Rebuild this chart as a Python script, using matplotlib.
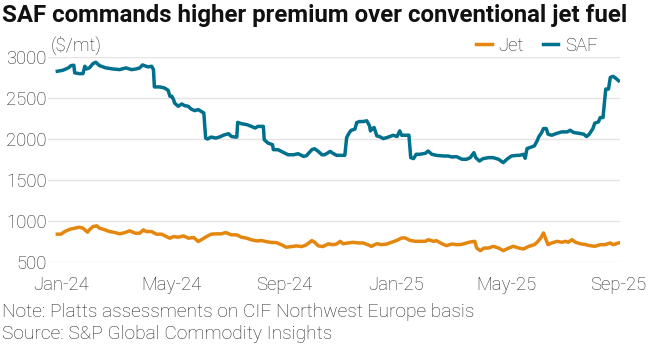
"""SAF vs conventional jet fuel price chart (Platts CIF NWE)."""

import matplotlib

matplotlib.use("Agg")
import matplotlib.pyplot as plt
import pandas as pd

plt.rcParams["font.family"] = ["Roboto", "DejaVu Sans"]

TITLE = "SAF commands higher premium over conventional jet fuel"
UNIT = "($/mt)"
NOTE = "Note: Platts assessments on CIF Northwest Europe basis"
SOURCE = "Source: S&P Global Commodity Insights"

SAF_DATES = [
    "2023-12-28", "2024-01-03", "2024-01-09", "2024-01-12", "2024-01-15", "2024-01-16",
    "2024-01-21", "2024-01-25", "2024-01-27", "2024-01-29", "2024-02-01", "2024-02-05",
    "2024-02-08", "2024-02-12", "2024-02-19", "2024-02-27", "2024-03-05", "2024-03-12",
    "2024-03-18", "2024-03-23", "2024-03-27", "2024-03-30", "2024-04-01", "2024-04-05",
    "2024-04-09", "2024-04-11", "2024-04-12", "2024-04-18", "2024-04-23", "2024-04-27",
    "2024-04-29", "2024-05-01", "2024-05-03", "2024-05-04", "2024-05-08", "2024-05-12",
    "2024-05-15", "2024-05-19", "2024-05-22", "2024-05-26", "2024-05-30", "2024-06-02",
    "2024-06-05", "2024-06-07", "2024-06-09", "2024-06-13", "2024-06-18", "2024-06-22",
    "2024-06-27", "2024-07-02", "2024-07-05", "2024-07-09", "2024-07-11", "2024-07-12",
    "2024-07-16", "2024-07-22", "2024-07-27", "2024-07-31", "2024-08-03", "2024-08-09",
    "2024-08-10", "2024-08-14", "2024-08-19", "2024-08-20", "2024-08-25", "2024-08-31",
    "2024-09-05", "2024-09-11", "2024-09-16", "2024-09-22", "2024-09-25", "2024-10-01",
    "2024-10-04", "2024-10-08", "2024-10-12", "2024-10-15", "2024-10-21", "2024-10-24",
    "2024-10-28", "2024-11-02", "2024-11-06", "2024-11-08", "2024-11-11", "2024-11-13",
    "2024-11-17", "2024-11-19", "2024-11-22", "2024-11-26", "2024-11-30", "2024-12-03",
    "2024-12-04", "2024-12-06", "2024-12-08", "2024-12-11", "2024-12-14", "2024-12-18",
    "2024-12-22", "2024-12-25", "2024-12-29", "2025-01-02", "2025-01-05", "2025-01-07",
    "2025-01-11", "2025-01-15", "2025-01-17", "2025-01-20", "2025-01-23", "2025-01-27",
    "2025-02-02", "2025-02-05", "2025-02-09", "2025-02-14", "2025-02-22", "2025-02-27",
    "2025-03-03", "2025-03-08", "2025-03-14", "2025-03-19", "2025-03-23", "2025-03-27",
    "2025-03-29", "2025-04-02", "2025-04-06", "2025-04-12", "2025-04-17", "2025-04-23",
    "2025-04-28", "2025-05-02", "2025-05-07", "2025-05-13", "2025-05-16", "2025-05-20",
    "2025-05-22", "2025-05-24", "2025-05-27", "2025-06-01", "2025-06-04", "2025-06-06",
    "2025-06-09", "2025-06-11", "2025-06-14", "2025-06-16", "2025-06-20", "2025-06-26",
    "2025-07-01", "2025-07-07", "2025-07-10", "2025-07-14", "2025-07-19", "2025-07-25",
    "2025-07-28", "2025-07-31", "2025-08-04", "2025-08-06", "2025-08-10", "2025-08-12",
    "2025-08-15", "2025-08-18", "2025-08-21", "2025-08-23", "2025-08-26", "2025-08-29",
    "2025-09-01",
]
SAF_PRICE = [
    2825, 2837, 2866, 2894, 2898, 2805,
    2796, 2796, 2886, 2853, 2866, 2919,
    2935, 2894, 2866, 2853, 2845, 2866,
    2845, 2853, 2866, 2902, 2894, 2878,
    2886, 2845, 2634, 2634, 2621, 2593,
    2520, 2520, 2479, 2438, 2398, 2426,
    2406, 2398, 2365, 2345, 2357, 2337,
    2316, 2011, 1999, 2023, 2011, 2023,
    2048, 2064, 2031, 2023, 2023, 2202,
    2186, 2174, 2153, 2133, 2153, 2153,
    1991, 1950, 1930, 1869, 1869, 1836,
    1807, 1807, 1820, 1787, 1795, 1869,
    1881, 1848, 1807, 1807, 1848, 1825,
    1800, 1800, 1800, 2017, 2078, 2106,
    2119, 2200, 2212, 2212, 2221, 2160,
    2098, 2125, 2139, 2037, 2029, 2004,
    2017, 2029, 2045, 2029, 2098, 2045,
    2045, 2045, 1772, 1760, 1813, 1813,
    1825, 1853, 1813, 1800, 1792, 1792,
    1780, 1784, 1752, 1752, 1772, 1833,
    1772, 1731, 1760, 1772, 1772, 1752,
    1711, 1752, 1792, 1800, 1800, 1813,
    1764, 1882, 1894, 1915, 1976, 2029,
    2078, 2127, 2127, 2058, 2045, 2070,
    2086, 2086, 2106, 2078, 2070, 2058,
    2029, 2058, 2127, 2192, 2208, 2261,
    2261, 2608, 2608, 2751, 2763, 2739,
    2710,
]

JET_DATES = [
    "2023-12-28", "2024-01-01", "2024-01-05", "2024-01-11", "2024-01-16", "2024-01-21",
    "2024-01-25", "2024-01-30", "2024-02-01", "2024-02-05", "2024-02-09", "2024-02-12",
    "2024-02-18", "2024-02-23", "2024-02-29", "2024-03-05", "2024-03-11", "2024-03-16",
    "2024-03-22", "2024-03-27", "2024-03-31", "2024-04-03", "2024-04-09", "2024-04-14",
    "2024-04-20", "2024-04-25", "2024-04-29", "2024-05-03", "2024-05-08", "2024-05-14",
    "2024-05-19", "2024-05-25", "2024-05-30", "2024-06-02", "2024-06-08", "2024-06-13",
    "2024-06-18", "2024-06-24", "2024-06-29", "2024-07-05", "2024-07-11", "2024-07-16",
    "2024-07-22", "2024-07-27", "2024-08-02", "2024-08-07", "2024-08-12", "2024-08-18",
    "2024-08-23", "2024-08-29", "2024-09-03", "2024-09-09", "2024-09-14", "2024-09-20",
    "2024-09-25", "2024-10-01", "2024-10-04", "2024-10-08", "2024-10-13", "2024-10-19",
    "2024-10-24", "2024-10-28", "2024-11-01", "2024-11-04", "2024-11-10", "2024-11-15",
    "2024-11-21", "2024-11-26", "2024-12-01", "2024-12-05", "2024-12-11", "2024-12-16",
    "2024-12-22", "2024-12-27", "2025-01-02", "2025-01-07", "2025-01-11", "2025-01-16",
    "2025-01-22", "2025-01-27", "2025-02-02", "2025-02-05", "2025-02-11", "2025-02-14",
    "2025-02-20", "2025-02-25", "2025-03-03", "2025-03-08", "2025-03-14", "2025-03-19",
    "2025-03-23", "2025-03-28", "2025-03-30", "2025-04-03", "2025-04-07", "2025-04-12",
    "2025-04-17", "2025-04-23", "2025-04-28", "2025-05-04", "2025-05-09", "2025-05-15",
    "2025-05-20", "2025-05-26", "2025-06-01", "2025-06-04", "2025-06-08", "2025-06-11",
    "2025-06-13", "2025-06-16", "2025-06-20", "2025-06-26", "2025-07-01", "2025-07-05",
    "2025-07-08", "2025-07-12", "2025-07-16", "2025-07-21", "2025-07-27", "2025-08-01",
    "2025-08-06", "2025-08-12", "2025-08-17", "2025-08-23", "2025-08-26", "2025-09-01",
]
JET_PRICE = [
    839, 839, 871, 900, 912, 924,
    912, 863, 892, 932, 941, 912,
    892, 871, 859, 843, 859, 880,
    851, 851, 892, 871, 871, 839,
    839, 810, 790, 810, 802, 818,
    790, 798, 749, 770, 810, 839,
    843, 843, 859, 831, 831, 802,
    790, 770, 757, 761, 749, 737,
    737, 709, 680, 688, 696, 688,
    709, 761, 741, 696, 688, 721,
    711, 719, 752, 723, 732, 740,
    732, 732, 711, 691, 723, 711,
    719, 740, 764, 793, 793, 764,
    752, 752, 752, 772, 752, 760,
    723, 699, 719, 711, 715, 732,
    744, 752, 670, 638, 670, 670,
    691, 670, 638, 670, 691, 670,
    658, 691, 711, 740, 793, 854,
    793, 711, 732, 752, 740, 752,
    740, 772, 740, 723, 711, 699,
    691, 711, 711, 732, 711, 732,
]

Y_TICKS = [500, 1000, 1500, 2000, 2500, 3000]
X_TICKS = ["2024-01-01", "2024-05-01", "2024-09-01", "2025-01-01", "2025-05-01", "2025-09-01"]
X_TICK_LABELS = ["Jan-24", "May-24", "Sep-24", "Jan-25", "May-25", "Sep-25"]

JET_COLOR = "#E5870F"
SAF_COLOR = "#00718C"
TEXT_COLOR = "#262626"
TEXT_SIZE = 13.3


def main() -> None:
    fig = plt.figure(figsize=(6.6, 3.47), dpi=100)
    ax = fig.add_axes([0.073, 0.245, 0.867, 0.591])

    ax.plot(pd.to_datetime(JET_DATES), JET_PRICE, color=JET_COLOR, linewidth=2.5,
            solid_joinstyle="round", label="Jet")
    ax.plot(pd.to_datetime(SAF_DATES), SAF_PRICE, color=SAF_COLOR, linewidth=2.5,
            solid_joinstyle="round", label="SAF")

    ax.set_xlim(pd.Timestamp("2023-12-18"), pd.Timestamp("2025-09-03"))
    ax.set_ylim(500, 3000)
    ax.set_yticks(Y_TICKS)
    ax.set_xticks(pd.to_datetime(X_TICKS))
    ax.set_xticklabels(X_TICK_LABELS)
    ax.grid(axis="y", color="#E3E3E3", linewidth=1)
    ax.set_axisbelow(True)
    for side in ax.spines.values():
        side.set_visible(False)
    ax.tick_params(length=0, labelsize=TEXT_SIZE, colors=TEXT_COLOR)
    ax.tick_params(axis="y", pad=1)
    ax.tick_params(axis="x", pad=10)
    for label in ax.get_xticklabels() + ax.get_yticklabels():
        label.set_fontweight("light")

    fig.text(0.003, 0.955, TITLE, fontsize=17.3, fontweight="bold", color="#111111",
             va="center", ha="left")
    fig.text(0.077, 0.868, UNIT, fontsize=TEXT_SIZE, fontweight="light", color=TEXT_COLOR,
             va="center", ha="left")
    legend = fig.legend(loc="center right", bbox_to_anchor=(0.916, 0.868), ncol=2,
                        frameon=False, fontsize=TEXT_SIZE, handlelength=0.85,
                        handletextpad=0.35, columnspacing=1.0, labelcolor=TEXT_COLOR,
                        borderaxespad=0)
    for text in legend.get_texts():
        text.set_fontweight("light")
    fig.text(0.003, 0.1, NOTE, fontsize=13.8, fontweight="light", color=TEXT_COLOR,
             va="center", ha="left")
    fig.text(0.003, 0.037, SOURCE, fontsize=13.8, fontweight="light", color=TEXT_COLOR,
             va="center", ha="left")

    fig.savefig("out.png", dpi=100)
    plt.close(fig)


if __name__ == "__main__":
    main()
